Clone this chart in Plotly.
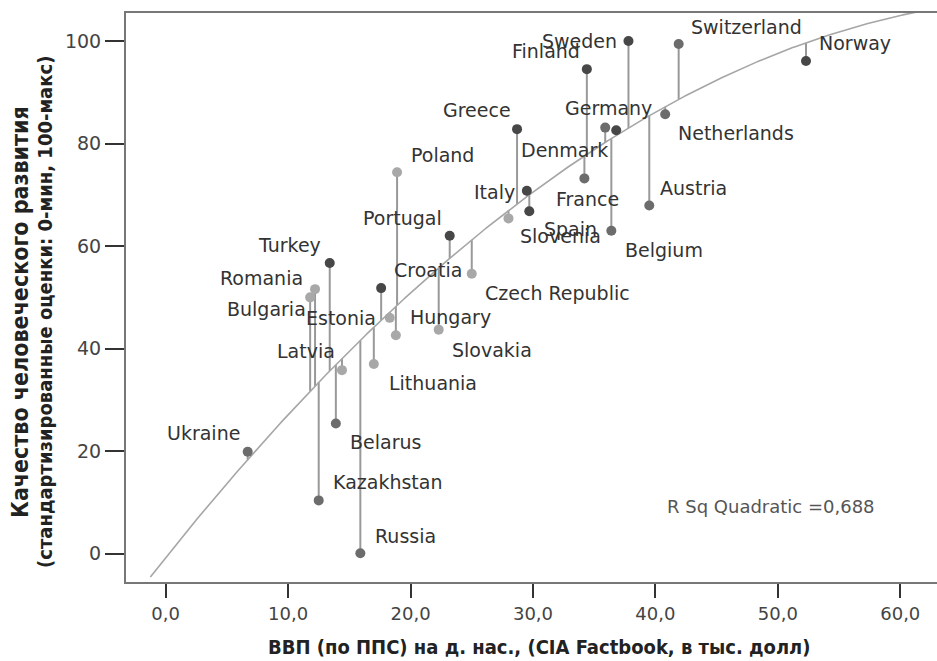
import numpy as np
import plotly.graph_objects as go

# ---------------- data ----------------
countries = ["Sweden", "Switzerland", "Norway", "Finland", "Netherlands", "Denmark",
             "Germany", "Greece", "France", "Poland", "Italy", "Austria", "Spain",
             "Slovenia", "Belgium", "Portugal", "Turkey", "Czech Republic", "Croatia",
             "Romania", "Bulgaria", "Estonia", "Slovakia", "Hungary", "Lithuania",
             "Latvia", "Belarus", "Ukraine", "Kazakhstan", "Russia"]
gdp = [37.8, 41.9, 52.3, 34.4, 40.8, 35.9,
       36.8, 28.7, 34.2, 18.9, 29.5, 39.5, 29.7,
       28.0, 36.4, 23.2, 13.4, 25.0, 17.6,
       12.2, 11.8, 18.3, 22.3, 18.8, 17.0,
       14.4, 13.9, 6.7, 12.5, 15.9]
quality = [100.0, 99.4, 96.1, 94.5, 85.7, 83.1,
           82.6, 82.8, 73.2, 74.4, 70.8, 67.9, 66.8,
           65.4, 63.0, 62.0, 56.7, 54.6, 51.8,
           51.6, 50.0, 46.0, 43.7, 42.6, 37.0,
           35.8, 25.4, 19.9, 10.4, 0.1]
shade = ["dark", "mid", "dark", "dark", "mid", "mid",
         "dark", "dark", "mid", "light", "dark", "mid", "dark",
         "light", "mid", "dark", "dark", "light", "dark",
         "light", "light", "light", "light", "light", "light",
         "light", "mid", "mid", "mid", "mid"]
x_ticks = [0, 10, 20, 30, 40, 50, 60]
x_tick_labels = ["0,0", "10,0", "20,0", "30,0", "40,0", "50,0", "60,0"]
y_ticks = [0, 20, 40, 60, 80, 100]
r_sq_text = "R Sq Quadratic =0,688"
x_title = "ВВП (по ППС) на д. нас., (CIA Factbook, в тыс. долл)"
y_title_1 = "Качество человеческого развития"
y_title_2 = "(стандартизированные оценки: 0-мин, 100-макс)"

# ---------------- styles ----------------
shade_colors = {"dark": "#474747", "mid": "#6c6c6c", "light": "#a8a8a8"}
# label placement: (anchor, x shift px, y shift px downward)
label_place = {
    "Sweden": ("right", -9, 0), "Finland": ("right", -5, -18),
    "Switzerland": ("left", 10, -17), "Norway": ("left", 11, -18),
    "Germany": ("center", -8, -22), "Netherlands": ("left", 11, 19),
    "Denmark": ("right", 5, 22), "Greece": ("right", -4, -19),
    "France": ("center", 3, 21), "Poland": ("left", 12, -17),
    "Italy": ("right", -10, 1), "Austria": ("left", 9, -18),
    "Spain": ("left", 13, 18), "Slovenia": ("left", 10, 18),
    "Belgium": ("left", 12, 19), "Portugal": ("right", -6, -18),
    "Turkey": ("right", -7, -18), "Czech Republic": ("left", 11, 19),
    "Croatia": ("left", 11, -18), "Romania": ("right", -10, -11),
    "Bulgaria": ("right", -2, 12), "Estonia": ("right", -12, 0),
    "Hungary": ("left", 12, -18), "Slovakia": ("left", 11, 20),
    "Lithuania": ("left", 13, 19), "Latvia": ("right", -5, -19),
    "Belarus": ("left", 12, 19), "Ukraine": ("right", -6, -19),
    "Kazakhstan": ("left", 12, -18), "Russia": ("left", 13, -17),
}
label_font = dict(family="DejaVu Sans", size=19, color="#333333")
title_family = "Liberation Sans Narrow, DejaVu Sans Condensed, Roboto"

# ---------------- quadratic fit ----------------
gx = np.array(gdp)
qy = np.array(quality)
coef = np.polyfit(gx, qy, 2)
fit = np.poly1d(coef)
curve_x = np.linspace(-1.25, 62, 300)

fig = go.Figure()

# residual lines
lx, ly = [], []
for xv, yv in zip(gdp, quality):
    lx += [xv, xv, None]
    ly += [yv, float(fit(xv)), None]
fig.add_trace(go.Scatter(x=lx, y=ly, mode="lines",
                         line=dict(color="#999999", width=2),
                         hoverinfo="skip", showlegend=False))

# fit curve
fig.add_trace(go.Scatter(x=curve_x, y=fit(curve_x), mode="lines",
                         line=dict(color="#a6a6a6", width=1.6),
                         hoverinfo="skip", showlegend=False))

# points
for s, col in shade_colors.items():
    idx = [i for i, v in enumerate(shade) if v == s]
    fig.add_trace(go.Scatter(
        x=[gdp[i] for i in idx], y=[quality[i] for i in idx],
        mode="markers", marker=dict(color=col, size=10, line=dict(width=0)),
        text=[countries[i] for i in idx], showlegend=False))

# labels
for c, xv, yv in zip(countries, gdp, quality):
    anc, dx, dy = label_place[c]
    fig.add_annotation(x=xv, y=yv, xref="x", yref="y", text=c, showarrow=False,
                       xanchor=anc, yanchor="middle", xshift=dx, yshift=-dy,
                       font=label_font)

fig.add_annotation(x=0.6646, y=0.1322, xref="paper", yref="paper", text=r_sq_text,
                   showarrow=False, xanchor="left", yanchor="middle",
                   font=dict(family="DejaVu Sans", size=18, color="#555555"))

fig.add_annotation(x=0.51, y=-0.1136, xref="paper", yref="paper",
                   text="<b>" + x_title + "</b>", showarrow=False,
                   xanchor="center", yanchor="middle",
                   font=dict(family=title_family, size=20, color="#222222"))
fig.add_annotation(x=-0.1307, y=0.4745, xref="paper", yref="paper",
                   text="<b>" + y_title_1 + "</b>", showarrow=False, textangle=-90,
                   xanchor="center", yanchor="middle",
                   font=dict(family=title_family, size=23, color="#222222"))
fig.add_annotation(x=-0.0999, y=0.4745, xref="paper", yref="paper",
                   text="<b>" + y_title_2 + "</b>", showarrow=False, textangle=-90,
                   xanchor="center", yanchor="middle",
                   font=dict(family=title_family, size=20, color="#222222"))

fig.update_layout(
    width=937, height=661,
    margin=dict(l=126, r=0, t=13, b=79, pad=0),
    paper_bgcolor="white", plot_bgcolor="white",
    showlegend=False,
    xaxis=dict(range=[-3.24, 63.0], tickvals=x_ticks, ticktext=x_tick_labels,
               ticks="outside", ticklen=14, tickwidth=2, tickcolor="#333333",
               showline=True, linecolor="#777777", linewidth=2, mirror=True,
               showgrid=False, zeroline=False,
               tickfont=dict(family="DejaVu Sans", size=18, color="#444444")),
    yaxis=dict(range=[-5.51, 105.45], tickvals=y_ticks,
               ticks="outside", ticklen=19, tickwidth=2, tickcolor="#333333",
               showline=True, linecolor="#777777", linewidth=2, mirror=False,
               showgrid=False, zeroline=False,
               tickfont=dict(family="DejaVu Sans", size=19, color="#444444")),
)

fig.write_html("out.html", config={"displayModeBar": False},
               post_script="document.body.style.margin='0';document.body.style.overflow='hidden';")
